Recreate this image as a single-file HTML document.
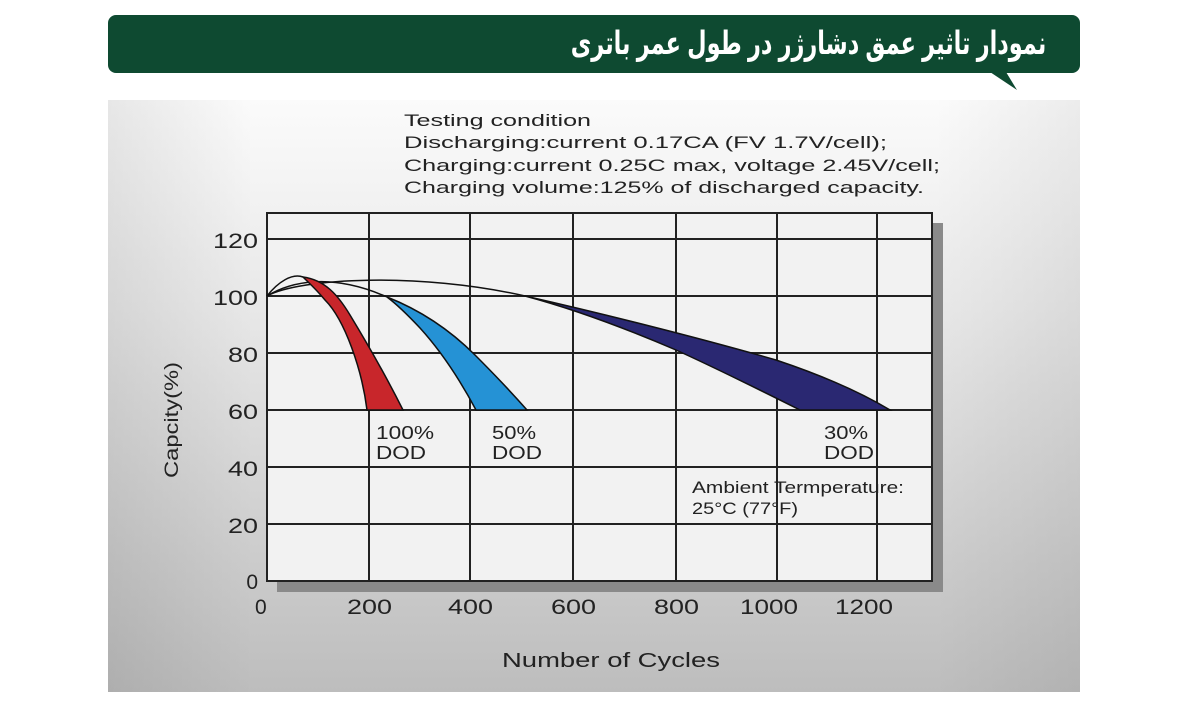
<!DOCTYPE html>
<html><head><meta charset="utf-8"><style>
html,body{margin:0;padding:0;background:#fff;width:1182px;height:710px;overflow:hidden;position:relative}
#ttl{position:absolute;right:136px;top:21px;height:44px;line-height:44px;font-family:"Liberation Sans","DejaVu Sans",sans-serif;font-size:32px;font-weight:bold;color:#fff;direction:rtl;white-space:nowrap;transform:scaleX(0.7);transform-origin:right center}
svg{position:absolute;left:0;top:0}
</style></head><body>
<svg width="1182" height="710" xmlns="http://www.w3.org/2000/svg" font-family="Liberation Sans, sans-serif">
<defs>
<linearGradient id="bg" x1="0" y1="0" x2="0" y2="1">
<stop offset="0" stop-color="#fbfbfb"/><stop offset="0.35" stop-color="#e8e8e8"/><stop offset="1" stop-color="#bdbdbd"/>
</linearGradient>
<linearGradient id="bgl" x1="0" y1="0" x2="1" y2="0">
<stop offset="0" stop-color="#000" stop-opacity="0.08"/><stop offset="0.15" stop-color="#000" stop-opacity="0"/>
<stop offset="0.85" stop-color="#000" stop-opacity="0"/><stop offset="1" stop-color="#000" stop-opacity="0.06"/>
</linearGradient>
</defs>
<rect x="108" y="100" width="972" height="592" fill="url(#bg)"/>
<rect x="108" y="100" width="972" height="592" fill="url(#bgl)"/>
<rect x="108" y="15" width="972" height="58" rx="8" fill="#0e4a31"/>
<polygon points="990,72 1006,72 1017,90" fill="#0e4a31"/>
<g font-size="17" fill="#222">
<text x="404" y="126" textLength="187" lengthAdjust="spacingAndGlyphs">Testing condition</text>
<text x="404" y="148" textLength="483" lengthAdjust="spacingAndGlyphs">Discharging:current 0.17CA (FV 1.7V/cell);</text>
<text x="404" y="171" textLength="536" lengthAdjust="spacingAndGlyphs">Charging:current 0.25C max, voltage 2.45V/cell;</text>
<text x="404" y="193" textLength="520" lengthAdjust="spacingAndGlyphs">Charging volume:125% of discharged capacity.</text>
</g>
<rect x="277" y="223" width="666" height="369" fill="#8a8a8a"/>
<rect x="267" y="213" width="665" height="368" fill="#f2f2f2" stroke="#222" stroke-width="2"/>
<g stroke="#222" stroke-width="2">
<line x1="369" y1="213" x2="369" y2="581"/><line x1="470" y1="213" x2="470" y2="581"/>
<line x1="573" y1="213" x2="573" y2="581"/><line x1="676" y1="213" x2="676" y2="581"/>
<line x1="777" y1="213" x2="777" y2="581"/><line x1="877" y1="213" x2="877" y2="581"/>
<line x1="267" y1="239" x2="932" y2="239"/><line x1="267" y1="296" x2="932" y2="296"/>
<line x1="267" y1="353" x2="932" y2="353"/><line x1="267" y1="410" x2="932" y2="410"/>
<line x1="267" y1="467" x2="932" y2="467"/><line x1="267" y1="524" x2="932" y2="524"/>
</g>
<g stroke="#111" stroke-width="1.5" fill="none">
<path d="M267,296 C278,282 292,273 303,277"/>
<path d="M267,296 C290,282 330,272 387,297"/>
<path d="M267,296 C300,278 420,272 525,296"/>
</g>
<g stroke="#111" stroke-width="1.5">
<path d="M303,277 C325,280 338,295 350,315 C370,348 388,380 403,410 L367,410 C362,370 345,320 325,300 C315,288 308,282 303,277 Z" fill="#c8262b"/>
<path d="M387,297 C420,310 450,330 475,355 C495,375 512,393 527,410 L476,410 C460,380 440,350 420,328 C405,312 395,303 387,297 Z" fill="#2592d5"/>
<path d="M525,296 C600,313 700,338 776,360 C830,378 865,395 890,410 L800,410 C770,395 720,370 676,350 C620,326 570,308 525,296 Z" fill="#2a2872"/>
</g>
<g font-size="18" fill="#222">
<text x="376" y="439" textLength="58" lengthAdjust="spacingAndGlyphs">100%</text><text x="376" y="459" textLength="50" lengthAdjust="spacingAndGlyphs">DOD</text>
<text x="492" y="439" textLength="44" lengthAdjust="spacingAndGlyphs">50%</text><text x="492" y="459" textLength="50" lengthAdjust="spacingAndGlyphs">DOD</text>
<text x="824" y="439" textLength="44" lengthAdjust="spacingAndGlyphs">30%</text><text x="824" y="459" textLength="50" lengthAdjust="spacingAndGlyphs">DOD</text>
</g>
<g font-size="17" fill="#222">
<text x="692" y="493" textLength="212" lengthAdjust="spacingAndGlyphs">Ambient Termperature:</text>
<text x="692" y="514" textLength="106" lengthAdjust="spacingAndGlyphs">25°C (77°F)</text>
</g>
<g font-size="21" fill="#222" text-anchor="end">
<text x="258" y="248" textLength="45" lengthAdjust="spacingAndGlyphs">120</text><text x="258" y="305" textLength="45" lengthAdjust="spacingAndGlyphs">100</text><text x="258" y="362" textLength="30" lengthAdjust="spacingAndGlyphs">80</text>
<text x="258" y="419" textLength="30" lengthAdjust="spacingAndGlyphs">60</text><text x="258" y="476" textLength="30" lengthAdjust="spacingAndGlyphs">40</text><text x="258" y="533" textLength="30" lengthAdjust="spacingAndGlyphs">20</text><text x="258" y="589">0</text>
</g>
<g font-size="21" fill="#222">
<text x="255" y="614">0</text>
<text x="347" y="614" textLength="45" lengthAdjust="spacingAndGlyphs">200</text>
<text x="448" y="614" textLength="45" lengthAdjust="spacingAndGlyphs">400</text>
<text x="551" y="614" textLength="45" lengthAdjust="spacingAndGlyphs">600</text>
<text x="654" y="614" textLength="45" lengthAdjust="spacingAndGlyphs">800</text>
<text x="740" y="614" textLength="58" lengthAdjust="spacingAndGlyphs">1000</text>
<text x="835" y="614" textLength="58" lengthAdjust="spacingAndGlyphs">1200</text>
<text x="502" y="667" font-size="20" textLength="218" lengthAdjust="spacingAndGlyphs">Number of Cycles</text>
<text transform="translate(178,478) rotate(-90)" font-size="19" textLength="116" lengthAdjust="spacingAndGlyphs">Capcity(%)</text>
</g>
</svg>
<div id="ttl">نمودار تاثیر عمق دشارژر در طول عمر باتری</div>
</body></html>
